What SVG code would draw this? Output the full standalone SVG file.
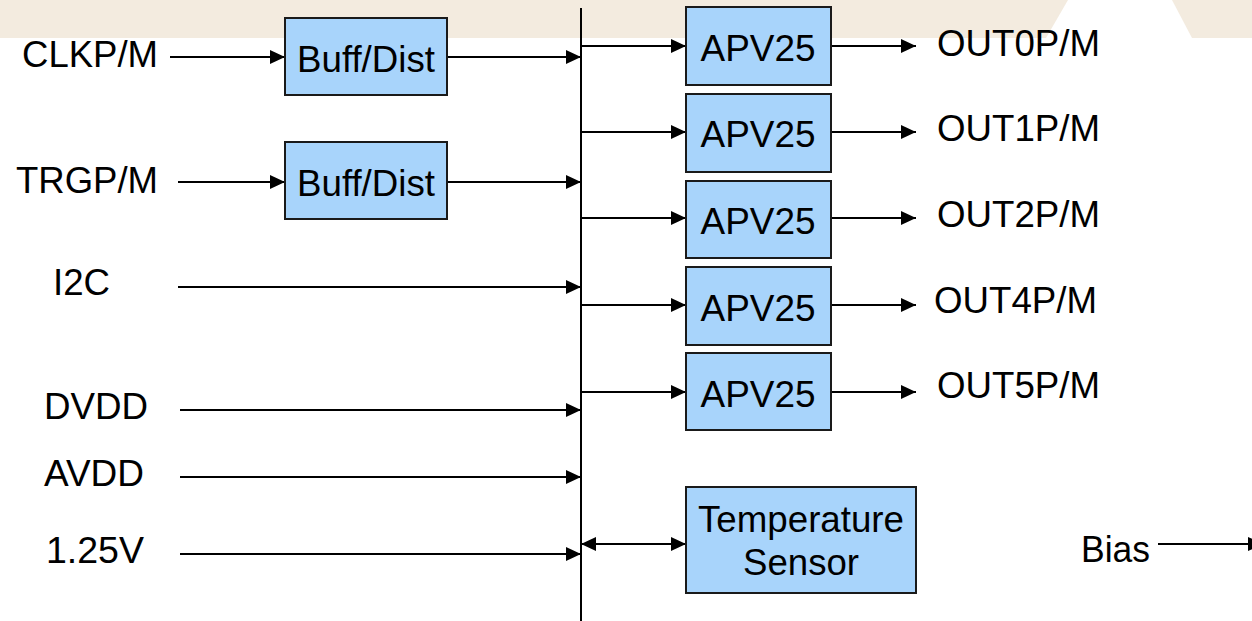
<svg xmlns="http://www.w3.org/2000/svg" width="1252" height="621" viewBox="0 0 1252 621">
<defs>
<marker id="ah" markerUnits="userSpaceOnUse" markerWidth="16" markerHeight="15" refX="15" refY="7" orient="auto-start-reverse">
<path d="M0,0 L15,7 L0,14 z" fill="#000"/>
</marker>
<style>
.t{font-family:"Liberation Sans",Arial,sans-serif;font-size:37px;fill:#000}
.m{text-anchor:middle}
.box{fill:#a8d4fb;stroke:#1a1a1a;stroke-width:2}
.ln{stroke:#000;stroke-width:2;fill:none}
.ar{stroke:#000;stroke-width:2;fill:none;marker-end:url(#ah)}
</style>
</defs>
<rect width="1252" height="621" fill="#fff"/>
<g id="background">
<polygon points="0,0 1068,0 1046,38 0,38" fill="#f3ebdf"/>
<polygon points="1172,0 1252,0 1252,38 1192,38" fill="#f3ebdf"/>
</g>
<g id="connectors">
<line class="ln" x1="581" y1="8" x2="581" y2="621"/>
<line class="ar" x1="170" y1="57" x2="285" y2="57"/>
<line class="ar" x1="447" y1="57" x2="581" y2="57"/>
<line class="ar" x1="178" y1="182" x2="285" y2="182"/>
<line class="ar" x1="447" y1="182" x2="581" y2="182"/>
<line class="ar" x1="178" y1="287" x2="581" y2="287"/>
<line class="ar" x1="180" y1="410" x2="581" y2="410"/>
<line class="ar" x1="180" y1="477" x2="581" y2="477"/>
<line class="ar" x1="180" y1="554" x2="581" y2="554"/>
<line class="ar" x1="581" y1="46" x2="686" y2="46"/>
<line class="ar" x1="581" y1="132" x2="686" y2="132"/>
<line class="ar" x1="581" y1="218" x2="686" y2="218"/>
<line class="ar" x1="581" y1="305" x2="686" y2="305"/>
<line class="ar" x1="581" y1="392" x2="686" y2="392"/>
<line class="ar" x1="831" y1="46" x2="916" y2="46"/>
<line class="ar" x1="831" y1="132" x2="916" y2="132"/>
<line class="ar" x1="831" y1="218" x2="916" y2="218"/>
<line class="ar" x1="831" y1="305" x2="916" y2="305"/>
<line class="ar" x1="831" y1="392" x2="916" y2="392"/>
<line class="ar" x1="581" y1="544" x2="686" y2="544" marker-start="url(#ah)"/>
<line class="ar" x1="1158" y1="544" x2="1263" y2="544"/>
</g>
<g id="labels">
<text class="t" x="22" y="67" textLength="136" lengthAdjust="spacingAndGlyphs">CLKP/M</text>
<text class="t" x="16" y="193" textLength="142" lengthAdjust="spacingAndGlyphs">TRGP/M</text>
<text class="t" x="53" y="295" textLength="57" lengthAdjust="spacingAndGlyphs">I2C</text>
<text class="t" x="44" y="419" textLength="104" lengthAdjust="spacingAndGlyphs">DVDD</text>
<text class="t" x="44" y="486" textLength="100" lengthAdjust="spacingAndGlyphs">AVDD</text>
<text class="t" x="46" y="563" textLength="98" lengthAdjust="spacingAndGlyphs">1.25V</text>
<text class="t" x="937" y="56" textLength="163" lengthAdjust="spacingAndGlyphs">OUT0P/M</text>
<text class="t" x="937" y="141" textLength="163" lengthAdjust="spacingAndGlyphs">OUT1P/M</text>
<text class="t" x="937" y="227" textLength="163" lengthAdjust="spacingAndGlyphs">OUT2P/M</text>
<text class="t" x="934" y="313" textLength="163" lengthAdjust="spacingAndGlyphs">OUT4P/M</text>
<text class="t" x="937" y="398" textLength="163" lengthAdjust="spacingAndGlyphs">OUT5P/M</text>
<text class="t" x="1081" y="562" textLength="69" lengthAdjust="spacingAndGlyphs">Bias</text>
</g>
<g id="buff1"><rect class="box" x="285" y="18" width="162" height="77"/><text class="t m" x="366" y="72" textLength="138" lengthAdjust="spacingAndGlyphs">Buff/Dist</text></g>
<g id="buff2"><rect class="box" x="285" y="142" width="162" height="77"/><text class="t m" x="366" y="196" textLength="138" lengthAdjust="spacingAndGlyphs">Buff/Dist</text></g>
<g id="apv0"><rect class="box" x="686" y="7" width="145" height="78"/><text class="t m" x="758" y="61" textLength="115" lengthAdjust="spacingAndGlyphs">APV25</text></g>
<g id="apv1"><rect class="box" x="686" y="94" width="145" height="78"/><text class="t m" x="758" y="147" textLength="115" lengthAdjust="spacingAndGlyphs">APV25</text></g>
<g id="apv2"><rect class="box" x="686" y="181" width="145" height="77"/><text class="t m" x="758" y="234" textLength="115" lengthAdjust="spacingAndGlyphs">APV25</text></g>
<g id="apv4"><rect class="box" x="686" y="267" width="145" height="78"/><text class="t m" x="758" y="321" textLength="115" lengthAdjust="spacingAndGlyphs">APV25</text></g>
<g id="apv5"><rect class="box" x="686" y="353" width="145" height="77"/><text class="t m" x="758" y="407" textLength="115" lengthAdjust="spacingAndGlyphs">APV25</text></g>
<g id="tempsensor"><rect class="box" x="686" y="487" width="230" height="106"/><text class="t m" x="801" y="532" textLength="206" lengthAdjust="spacingAndGlyphs">Temperature</text><text class="t m" x="801" y="575" textLength="116" lengthAdjust="spacingAndGlyphs">Sensor</text></g>
</svg>
